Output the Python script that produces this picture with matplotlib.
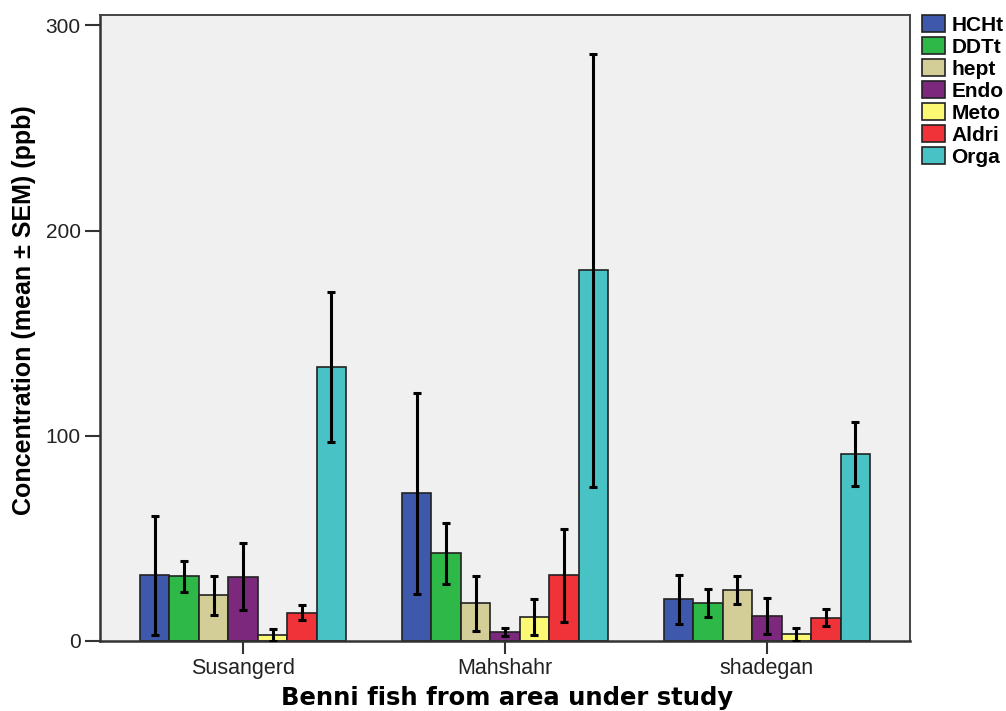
import matplotlib
matplotlib.use("Agg")
import matplotlib.pyplot as plt
import numpy as np

areas = ["Susangerd", "Mahshahr", "shadegan"]
series = ["HCHt", "DDTt", "hept", "Endo", "Meto", "Aldri", "Orga"]
colors = ["#3E58AC", "#2EB848", "#D3CE97", "#7C287D", "#FBF873", "#EF3338", "#48C2C5"]

means = {
    "HCHt":  [32.0, 72.0, 20.3],
    "DDTt":  [31.5, 42.7, 18.5],
    "hept":  [22.2, 18.3, 24.8],
    "Endo":  [31.3, 4.2, 12.3],
    "Meto":  [2.9, 11.8, 3.2],
    "Aldri": [13.8, 32.0, 11.4],
    "Orga":  [133.6, 180.6, 91.2],
}
sems = {
    "HCHt":  [29.0, 49.0, 12.1],
    "DDTt":  [7.5, 15.0, 6.7],
    "hept":  [9.5, 13.4, 7.0],
    "Endo":  [16.3, 1.9, 8.8],
    "Meto":  [2.8, 8.7, 3.0],
    "Aldri": [3.7, 22.6, 4.0],
    "Orga":  [36.6, 105.6, 15.6],
}

fig = plt.figure(figsize=(10.06, 7.11), dpi=100)
ax = fig.add_axes([100/1006, 1-641/711, 810/1006, (641-15)/711])
ax.set_facecolor("#F0F0F0")

x = np.arange(len(areas))
n = len(series)
w = 0.1125
for i, s in enumerate(series):
    pos = x + (i - (n-1)/2) * w
    ax.bar(pos, means[s], width=w, color=colors[i], edgecolor="#222222",
           linewidth=1.2, label=s, zorder=2)
    ax.errorbar(pos, means[s], yerr=sems[s], fmt="none", ecolor="black",
                elinewidth=2.2, capsize=3.2, capthick=2.2, zorder=3)

ax.set_xlim(-0.546, 2.546)
ax.set_ylim(0, 305)
ax.set_yticks([0, 100, 200, 300])
ax.set_xticks(x)
ax.set_xticklabels(areas)

for sp in ["left", "bottom"]:
    ax.spines[sp].set_color("#333333")
    ax.spines[sp].set_linewidth(1.8)
for sp in ["right", "top"]:
    ax.spines[sp].set_color("#444444")
    ax.spines[sp].set_linewidth(1.4)

ax.tick_params(axis="y", direction="out", length=11, width=1.5, color="#333333",
               labelsize=15, labelcolor="#222222", pad=3)
ax.tick_params(axis="x", direction="out", length=9, width=1.5, color="#333333",
               labelsize=15.5, labelcolor="#222222", pad=3)
for lab in ax.get_xticklabels() + ax.get_yticklabels():
    lab.set_family("Liberation Sans")

ax.set_ylabel("Concentration (mean ± SEM) (ppb)", fontsize=18, fontweight="bold",
              family="Liberation Sans")
ax.yaxis.set_label_coords(-76/810, 0.5 - (310 - 328) / 626)
ax.set_xlabel("Benni fish from area under study", fontsize=17.5, fontweight="bold",
              family="DejaVu Sans")
ax.xaxis.set_label_coords(0.5 + (507 - 505) / 810, -(698 - 641) / 626)
ax.xaxis.label.set_va("center")
ax.yaxis.label.set_va("center")

leg = fig.legend(loc="upper left", bbox_to_anchor=(922/1006, 1-15/711),
                 frameon=False, borderpad=0, borderaxespad=0,
                 handlelength=1.1, handleheight=0.85, handletextpad=0.3,
                 labelspacing=0.12, prop={"family": "Liberation Sans", "weight": "bold", "size": 15})
for p in leg.get_patches():
    p.set_edgecolor("#222222")
    p.set_linewidth(1.2)

fig.savefig("out.png", dpi=100)
